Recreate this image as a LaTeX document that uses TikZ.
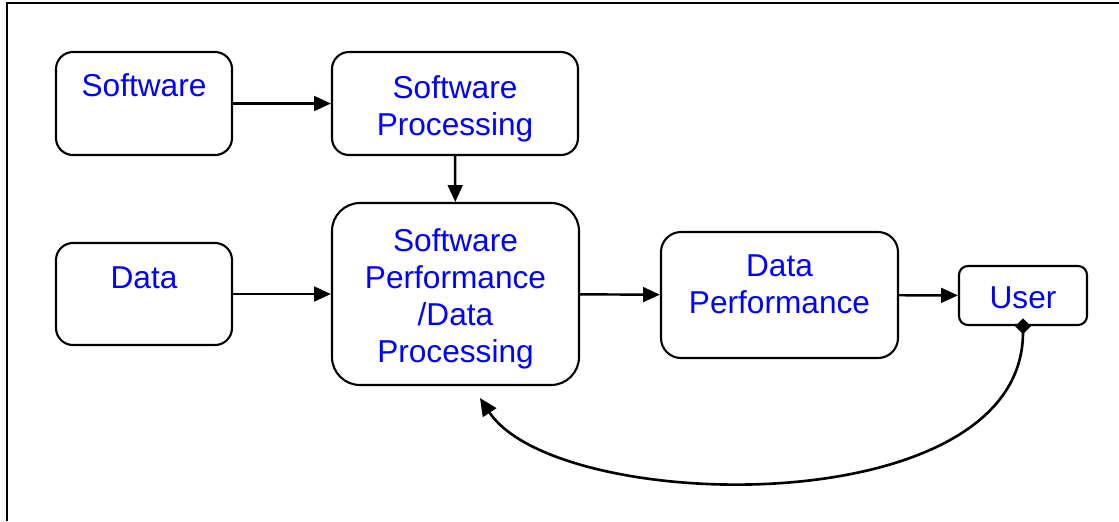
\documentclass[tikz,border=0pt]{standalone}
\usepackage{fontspec}
\setmainfont{Liberation Sans}
\usetikzlibrary{arrows.meta}

\begin{document}
\begin{tikzpicture}[
	box/.style={draw, line width=0.6pt, inner sep=0pt},
	txt/.style={text=blue, align=center, font=\fontsize{9}{10.5}\selectfont},
	arr/.style={line width=0.7pt, -{Triangle[length=4.8pt,width=4.2pt]}}
]
	\useasboundingbox (0,0) rectangle (11.19,5.21);
	\draw[line width=0.4pt] (0.07,0) -- (0.07,5.18) -- (11.19,5.18);

	% boxes
	\node[box, minimum width=1.76cm, minimum height=1.03cm, rounded corners=0.17cm] (sw) at (1.44,4.175) {};
	\node[box, minimum width=2.46cm, minimum height=1.03cm, rounded corners=0.17cm] (swp) at (4.55,4.175) {};
	\node[box, minimum width=1.76cm, minimum height=1.02cm, rounded corners=0.17cm] (dat) at (1.44,2.27) {};
	\node[box, minimum width=2.47cm, minimum height=1.82cm, rounded corners=0.28cm] (spdp) at (4.555,2.27) {};
	\node[box, minimum width=2.37cm, minimum height=1.26cm, rounded corners=0.2cm] (dp) at (7.795,2.26) {};
	\node[box, minimum width=1.28cm, minimum height=0.59cm, rounded corners=0.09cm] (usr) at (10.23,2.255) {};

	% texts
	\node[txt] (tsw) at (1.44,4.355) {Software};
	\node[txt] (tswp) at (4.55,4.125) {Software\\Processing};
	\node[txt] (tdat) at (1.44,2.43) {Data};
	\node[txt] (tspdp) at (4.555,2.22) {Software\\Performance\\/Data\\Processing};
	\node[txt] (tdp) at (7.795,2.365) {Data\\Performance};
	\node[txt] (tusr) at (10.23,2.23) {User};

	% flow
	\draw[arr] (sw) -- (swp);
	\draw[arr] (swp) -- (spdp);
	\draw[arr] (dat) -- (spdp);
	\draw[arr] (spdp) -- (dp);
	\draw[arr] (dp) -- (usr);

	% feedback from the user
	\coordinate (back) at (4.80,1.23);
	\draw[line width=0.75pt, {Diamond[length=4.5pt,width=4.5pt]}-{Triangle[length=5pt,width=4.5pt]}, shorten <=-2.2pt]
		(usr.south) .. controls (10.23,-0.04) and (5.57,0.06) .. (back);
\end{tikzpicture}
\end{document}
